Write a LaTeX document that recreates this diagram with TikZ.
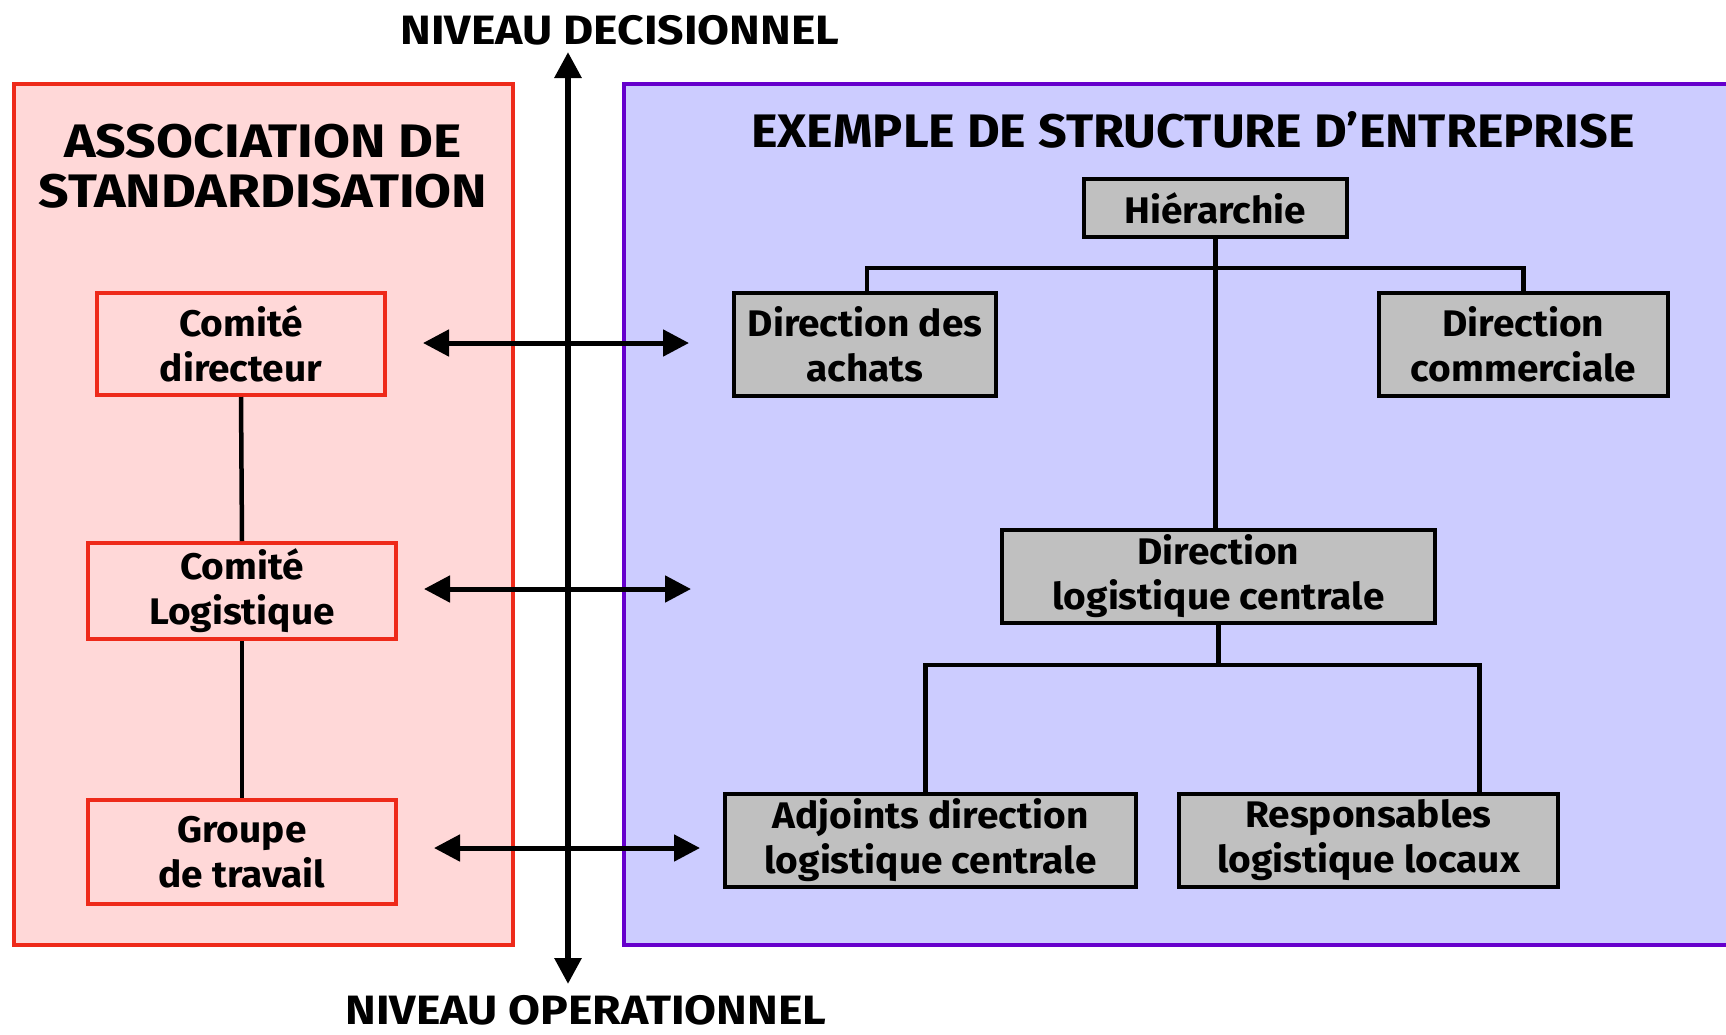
\documentclass[tikz,border=0pt]{standalone}
\usepackage{fontspec}
\setmainfont{Fira Sans}
\newfontfamily\boxfont{Fira Sans}[FakeStretch=1.05]
\newfontfamily\levelfont{Fira Sans}[FakeStretch=1.13]
\newfontfamily\titleAfont{Fira Sans}[FakeStretch=1.14]
\newfontfamily\titleBfont{Fira Sans}[FakeStretch=1.07]
\usetikzlibrary{arrows.meta}
\definecolor{pinkfill}{HTML}{FFD8D8}
\definecolor{redline}{HTML}{EE2A1A}
\definecolor{bluefill}{HTML}{CCCCFF}
\definecolor{purpleline}{HTML}{6600CC}
\definecolor{grayfill}{HTML}{C0C0C0}
\begin{document}
\begin{tikzpicture}[x=1pt,y=-1pt,
  boxtext/.style={inner sep=0pt, align=center, font=\boxfont\bfseries\fontsize{37}{45}\selectfont},
  redbox/.style={boxtext, draw=redline, line width=4pt, fill=pinkfill},
  graybox/.style={boxtext, draw=black, line width=4pt, fill=grayfill},
  link/.style={line width=4.5pt},
  dbl/.style={line width=5pt, {Triangle[length=26pt,width=26pt]}-{Triangle[length=26pt,width=26pt]}},
  axis/.style={line width=6pt, {Triangle[length=26pt,width=26pt]}-{Triangle[length=26pt,width=26pt]}},
  level/.style={inner sep=0pt, font=\levelfont\bfseries\fontsize{41}{45}\selectfont},
  title/.style={inner sep=0pt, align=center},
]
\useasboundingbox (0,0) rectangle (1726,1034);
\fill[white] (0,0) rectangle (1726,1034);

% panels
\draw[draw=redline, fill=pinkfill, line width=4pt] (14,84) rectangle (513,945);
\draw[draw=purpleline, fill=bluefill, line width=4pt] (624,84) rectangle (1760,945);

% titles
\node[title, font=\titleAfont\bfseries\fontsize{47}{50}\selectfont] (t1) at (263,166) {ASSOCIATION DE\\STANDARDISATION};
\node[title, font=\titleBfont\bfseries\fontsize{47}{50}\selectfont] (t2) at (1193,130) {EXEMPLE DE STRUCTURE D’ENTREPRISE};
\node[level] (nd) at (620,30) {NIVEAU DECISIONNEL};
\node[level] (no) at (586,1010) {NIVEAU OPERATIONNEL};

% left boxes
\node[redbox, minimum width=288pt, minimum height=102pt] (cd) at (241,344) {Comité\\directeur};
\node[redbox, minimum width=308pt, minimum height=96pt] (cl) at (242,591) {Comité\\Logistique};
\node[redbox, minimum width=308pt, minimum height=104pt] (gt) at (242,852) {Groupe\\de travail};

% right boxes
\node[graybox, minimum width=263pt, minimum height=58pt] (h) at (1215.5,208) {Hiérarchie};
\node[graybox, minimum width=262pt, minimum height=103pt] (ach) at (865,344.5) {Direction des\\achats};
\node[graybox, minimum width=289pt, minimum height=103pt] (com) at (1523.5,344.5) {Direction\\commerciale};
\node[graybox, minimum width=433pt, minimum height=93pt] (dlc) at (1218.5,576.5) {Direction\\logistique centrale};
\node[graybox, minimum width=411pt, minimum height=93pt] (adj) at (930.5,840.5) {Adjoints direction\\logistique centrale};
\node[graybox, minimum width=379pt, minimum height=93pt] (resp) at (1368.5,840.5) {Responsables\\logistique locaux};

% left links
\draw[link] (cd.south) -- (cl.north);
\draw[link] (cl.south) -- (gt.north);

% hierarchy links
\draw[link] (h.south) -- (h.south |- dlc.north);
\draw[link] ([xshift=2pt]ach.north) |- ([yshift=-29pt]h.south) -| (com.north);
\draw[link] (dlc.south) -- ++(0,40) coordinate (b2);
\draw[link] ([xshift=-5pt]adj.north) |- (b2) -| ([xshift=111pt]resp.north);

% axis
\coordinate (axtop) at (568,52);
\coordinate (axbot) at (568,984);
\draw[axis] (axtop) -- (axbot);

% double arrows
\coordinate (a1l) at (423,343);
\coordinate (a1r) at (689,343);
\coordinate (a2l) at (424,589);
\coordinate (a2r) at (691,589);
\coordinate (a3l) at (434,848);
\coordinate (a3r) at (700,848);
\draw[dbl] (a1l) -- (a1r);
\draw[dbl] (a2l) -- (a2r);
\draw[dbl] (a3l) -- (a3r);
\end{tikzpicture}
\end{document}
